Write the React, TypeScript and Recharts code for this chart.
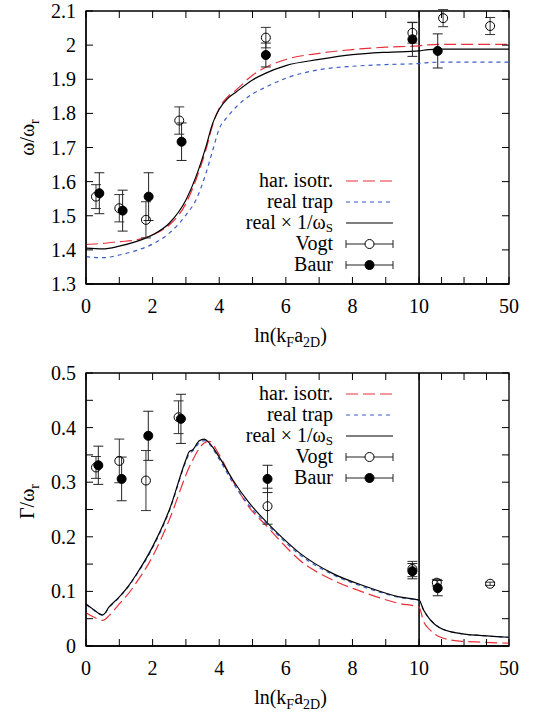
import React from 'react';
import {
  ComposedChart,
  Line,
  Scatter,
  ErrorBar,
  XAxis,
  YAxis,
  ReferenceLine,
  ReferenceArea,
  Legend,
} from 'recharts';

const FONT = '"Liberation Serif", "Times New Roman", "DejaVu Serif", serif';
const RED = '#e8303a';
const BLUE = '#3a5cc8';

// x axis: ln(kF a2D); 0..10 linear, then a compressed 10..50 piece
const X_TICK_VALUES = [0, 1, 2, 3, 4, 5, 6, 7, 8, 9, 10, 20, 30, 40, 50];
const X_TICK_LABELS = ['0', '', '2', '', '4', '', '6', '', '8', '', '10', '', '', '', '50'];

const OMEGA_TICKS = [1.3, 1.4, 1.5, 1.6, 1.7, 1.8, 1.9, 2.0, 2.1];
const GAMMA_TICKS = [0, 0.05, 0.1, 0.15, 0.2, 0.25, 0.3, 0.35, 0.4, 0.45, 0.5];

// theory curves, omega / omega_r
const omegaX = [0, 0.5, 1, 1.5, 2, 2.5, 3, 3.3, 3.6, 3.8, 4, 4.25, 4.5, 5, 5.4, 6, 7, 8, 9, 10, 14, 20, 30, 40, 50];
const omegaHar = [1.416, 1.419, 1.424, 1.429, 1.444, 1.473, 1.536, 1.605, 1.693, 1.765, 1.815, 1.848, 1.868, 1.912, 1.935, 1.958, 1.976, 1.987, 1.994, 1.998, 2.001, 2.002, 2.002, 2.002, 2.002];
const omegaTrap = [1.38, 1.377, 1.385, 1.398, 1.417, 1.449, 1.502, 1.546, 1.624, 1.69, 1.755, 1.79, 1.818, 1.857, 1.877, 1.903, 1.928, 1.938, 1.943, 1.946, 1.949, 1.95, 1.95, 1.95, 1.95];
const omegaScaled = [1.405, 1.403, 1.411, 1.424, 1.444, 1.478, 1.546, 1.614, 1.702, 1.77, 1.812, 1.843, 1.862, 1.898, 1.918, 1.94, 1.958, 1.972, 1.979, 1.983, 1.987, 1.988, 1.988, 1.988, 1.988];

// theory curves, Gamma / omega_r
const gammaX = [0, 0.2, 0.5, 0.7, 1, 1.3, 1.5, 2, 2.5, 3, 3.1, 3.2, 3.4, 3.55, 3.7, 4, 4.4, 4.9, 5.45, 5.9, 6.4, 7.4, 8.4, 9.4, 10, 12, 15, 19, 28, 38, 50];
const gammaHar = [0.061, 0.054, 0.047, 0.056, 0.077, 0.098, 0.115, 0.164, 0.231, 0.313, 0.328, 0.34, 0.362, 0.372, 0.375, 0.35, 0.303, 0.254, 0.218, 0.188, 0.158, 0.121, 0.097, 0.078, 0.071, 0.045, 0.029, 0.017, 0.009, 0.007, 0.005];
const gammaTrap = [0.076, 0.067, 0.056, 0.071, 0.089, 0.111, 0.129, 0.18, 0.247, 0.338, 0.352, 0.357, 0.372, 0.376, 0.37, 0.342, 0.3, 0.257, 0.222, 0.195, 0.168, 0.131, 0.107, 0.089, 0.083, 0.066, 0.048, 0.034, 0.023, 0.019, 0.016];
const gammaScaled = [0.077, 0.068, 0.057, 0.072, 0.09, 0.112, 0.13, 0.182, 0.249, 0.341, 0.356, 0.359, 0.376, 0.379, 0.372, 0.346, 0.305, 0.262, 0.225, 0.198, 0.171, 0.133, 0.109, 0.09, 0.084, 0.066, 0.048, 0.034, 0.023, 0.019, 0.016];

// experiments
const vogtOmegaX = [0.3, 1.0, 1.8, 2.8, 5.4, 9.8, 20.7, 41.6];
const vogtOmega = [1.556, 1.522, 1.488, 1.779, 2.022, 2.036, 2.079, 2.056];
const vogtOmegaErr = [0.035, 0.04, 0.053, 0.04, 0.03, 0.03, 0.025, 0.025];
const baurOmegaX = [0.4, 1.1, 1.88, 2.87, 5.4, 9.8, 18.3];
const baurOmega = [1.566, 1.515, 1.556, 1.717, 1.971, 2.017, 1.983];
const baurOmegaErr = [0.06, 0.06, 0.07, 0.055, 0.035, 0.05, 0.05];

const vogtGammaX = [0.3, 1.0, 1.8, 2.78, 5.45, 9.8, 17.9, 41.6];
const vogtGamma = [0.327, 0.339, 0.303, 0.419, 0.256, 0.141, 0.116, 0.114];
const vogtGammaErr = [0.02, 0.04, 0.055, 0.03, 0.033, 0.014, 0.006, 0.003];
const baurGammaX = [0.37, 1.07, 1.87, 2.85, 5.45, 9.8, 18.3];
const baurGamma = [0.331, 0.306, 0.385, 0.416, 0.306, 0.137, 0.106];
const baurGammaErr = [0.035, 0.04, 0.045, 0.045, 0.025, 0.014, 0.014];

const PLOT_W = 423;
const PLOT_H = 273;
const TICK = 7;
const BREAK = 10;
const RIGHT_SPAN = 2.7; // axis units used by the 10..50 piece

const toAxis = (x: number) => (x <= BREAK ? x : BREAK + ((x - BREAK) / 40) * RIGHT_SPAN);
const X_MAX = toAxis(50);
const X_TICKS = X_TICK_VALUES.map(toAxis);

const pts = (xs: number[], ys: number[], es?: number[]) =>
  xs.map((x, i) => ({ t: toAxis(x), y: ys[i], e: es ? es[i] : 0 }));

const fmt = (v: number) => {
  const s = v.toFixed(1);
  return s.endsWith('.0') ? s.slice(0, -2) : s;
};

function XTick(props: any) {
  const { x, y, payload } = props;
  let idx = 0;
  X_TICKS.forEach((t, i) => {
    if (Math.abs(t - payload.value) < Math.abs(X_TICKS[idx] - payload.value)) idx = i;
  });
  const label = X_TICK_LABELS[idx];
  return (
    <g>
      <line x1={x} x2={x} y1={y} y2={y - TICK} stroke="#000" />
      <line x1={x} x2={x} y1={y - PLOT_H} y2={y - PLOT_H + TICK} stroke="#000" />
      {label ? (
        <text x={x} y={y + 29} textAnchor="middle" fontFamily={FONT} fontSize={20} fill="#000">
          {label}
        </text>
      ) : null}
    </g>
  );
}

function YTick(props: any) {
  const { x, y, payload } = props;
  const v = payload.value;
  const labeled = Math.abs(v * 10 - Math.round(v * 10)) < 1e-6;
  return (
    <g>
      <line x1={x} x2={x + TICK} y1={y} y2={y} stroke="#000" />
      <line x1={x + PLOT_W} x2={x + PLOT_W - TICK} y1={y} y2={y} stroke="#000" />
      {labeled ? (
        <text x={x - 10} y={y + 7} textAnchor="end" fontFamily={FONT} fontSize={20} fill="#000">
          {fmt(v)}
        </text>
      ) : null}
    </g>
  );
}

function XTitle(props: any) {
  const vb = props.viewBox;
  return (
    <text x={vb.x + vb.width / 2 - 7} y={vb.y + 58} textAnchor="middle" fontFamily={FONT} fontSize={20} fill="#000">
      ln(k<tspan fontSize={14} dy={5}>F</tspan>
      <tspan dy={-5}>a</tspan>
      <tspan fontSize={14} dy={5}>2D</tspan>
      <tspan dy={-5}>)</tspan>
    </text>
  );
}

const LEGEND_ROWS = [
  { label: 'har. isotr.', kind: 'line', color: RED, dash: '12 5' },
  { label: 'real trap', kind: 'line', color: BLUE, dash: '4 4' },
  { label: 'real × 1/ω', sub: 'S', kind: 'line', color: '#000', dash: undefined },
  { label: 'Vogt', kind: 'open' },
  { label: 'Baur', kind: 'filled' },
];

function LegendBox() {
  return (
    <svg width={533} height={120} style={{ display: 'block', overflow: 'visible' }}>
      {LEGEND_ROWS.map((r: any, i) => {
        const base = 16 + i * 21;
        const my = base - 6;
        return (
          <g key={r.label}>
            <text x={333} y={base} textAnchor="end" fontFamily={FONT} fontSize={20} fill="#000">
              {r.label}
              {r.sub ? (
                <tspan fontSize={13} dy={3}>
                  {r.sub}
                </tspan>
              ) : null}
            </text>
            {r.kind === 'line' ? (
              <line x1={346} x2={393} y1={my} y2={my} stroke={r.color} strokeWidth={1.2} strokeDasharray={r.dash} />
            ) : (
              <g stroke="#222" strokeWidth={1}>
                <line x1={346} x2={393} y1={my} y2={my} />
                <line x1={346} x2={346} y1={my - 4} y2={my + 4} />
                <line x1={393} x2={393} y1={my - 4} y2={my + 4} />
                <circle cx={369.5} cy={my} r={4.5} fill={r.kind === 'open' ? '#fff' : '#000'} stroke="#000" />
              </g>
            )}
          </g>
        );
      })}
    </svg>
  );
}

const openDot = (p: any) => <circle cx={p.cx} cy={p.cy} r={4.5} fill="none" stroke="#000" strokeWidth={1} />;
const fullDot = (p: any) => <circle cx={p.cx} cy={p.cy} r={4.5} fill="#000" stroke="#000" strokeWidth={1} />;

type PanelProps = {
  top: number;
  height: number;
  marginTop: number;
  marginBottom: number;
  xAxisHeight: number;
  domain: [number, number];
  yTicks: number[];
  har: number[];
  trap: number[];
  scaled: number[];
  curveX: number[];
  vogt: { t: number; y: number; e: number }[];
  baur: { t: number; y: number; e: number }[];
  yTitle: React.ReactNode;
  yTitleShift: number;
  legendTop: number;
};

function Panel(p: PanelProps) {
  const har = pts(p.curveX, p.har);
  const trap = pts(p.curveX, p.trap);
  const scaled = pts(p.curveX, p.scaled);
  return (
    <div style={{ position: 'absolute', left: 0, top: p.top }}>
      <ComposedChart width={533} height={p.height} margin={{ top: p.marginTop, right: 24, bottom: p.marginBottom, left: 0 }}>
        <XAxis
          type="number"
          dataKey="t"
          domain={[0, X_MAX]}
          ticks={X_TICKS}
          interval={0}
          tickSize={0}
          tickMargin={0}
          tick={<XTick />}
          height={p.xAxisHeight}
          axisLine={{ stroke: '#000', strokeWidth: 1.3 }}
          allowDataOverflow
          label={(lp: any) => <XTitle {...lp} />}
        />
        <YAxis
          type="number"
          domain={p.domain}
          ticks={p.yTicks}
          interval={0}
          tickSize={0}
          tickMargin={0}
          tick={<YTick />}
          width={86}
          axisLine={{ stroke: '#000', strokeWidth: 1.3 }}
          allowDataOverflow
          label={(lp: any) => {
            const vb = lp.viewBox;
            const cx = 34;
            const cy = vb.y + vb.height / 2 + p.yTitleShift;
            return (
              <text
                x={cx}
                y={cy}
                transform={`rotate(-90, ${cx}, ${cy})`}
                textAnchor="middle"
                fontFamily={FONT}
                fontSize={20}
                fill="#000"
              >
                {p.yTitle}
              </text>
            );
          }}
        />
        <ReferenceArea
          x1={0}
          x2={X_MAX}
          y1={p.domain[0]}
          y2={p.domain[1]}
          fill="none"
          stroke="#000"
          strokeWidth={1.3}
          fillOpacity={0}
        />
        <ReferenceLine x={BREAK} stroke="#000" strokeWidth={1.6} />
        <Line data={har} dataKey="y" type="monotone" stroke={RED} strokeWidth={1.2} strokeDasharray="12 5" dot={false} isAnimationActive={false} />
        <Line data={trap} dataKey="y" type="monotone" stroke={BLUE} strokeWidth={1.2} strokeDasharray="4 4" dot={false} isAnimationActive={false} />
        <Line data={scaled} dataKey="y" type="monotone" stroke="#000" strokeWidth={1.2} dot={false} isAnimationActive={false} />
        <Scatter data={p.vogt} dataKey="y" shape={openDot} isAnimationActive={false}>
          <ErrorBar dataKey="e" direction="y" width={5} stroke="#333" strokeWidth={1} isAnimationActive={false} />
        </Scatter>
        <Scatter data={p.baur} dataKey="y" shape={fullDot} isAnimationActive={false}>
          <ErrorBar dataKey="e" direction="y" width={5} stroke="#222" strokeWidth={1} isAnimationActive={false} />
        </Scatter>
        <Legend
          layout="horizontal"
          verticalAlign="middle"
          align="center"
          content={() => <LegendBox />}
          wrapperStyle={{ position: 'absolute', left: 0, top: p.legendTop, width: 533, height: 120 }}
        />
      </ComposedChart>
    </div>
  );
}

export default function App() {
  return (
    <div style={{ position: 'absolute', left: 0, top: 0, width: 533, height: 716, background: '#fff' }}>
      <Panel
        top={0}
        height={358}
        marginTop={11}
        marginBottom={13}
        xAxisHeight={61}
        domain={[1.3, 2.1]}
        yTicks={OMEGA_TICKS}
        curveX={omegaX}
        har={omegaHar}
        trap={omegaTrap}
        scaled={omegaScaled}
        vogt={pts(vogtOmegaX, vogtOmega, vogtOmegaErr)}
        baur={pts(baurOmegaX, baurOmega, baurOmegaErr)}
        yTitle={
          <>
            ω/ω<tspan fontSize={14} dy={5}>r</tspan>
          </>
        }
        yTitleShift={-10}
        legendTop={171}
      />
      <Panel
        top={358}
        height={358}
        marginTop={15}
        marginBottom={0}
        xAxisHeight={70}
        domain={[0, 0.5]}
        yTicks={GAMMA_TICKS}
        curveX={gammaX}
        har={gammaHar}
        trap={gammaTrap}
        scaled={gammaScaled}
        vogt={pts(vogtGammaX, vogtGamma, vogtGammaErr)}
        baur={pts(baurGammaX, baurGamma, baurGammaErr)}
        yTitle={
          <>
            Γ/ω<tspan fontSize={14} dy={5}>r</tspan>
          </>
        }
        yTitleShift={-8}
        legendTop={26}
      />
    </div>
  );
}
